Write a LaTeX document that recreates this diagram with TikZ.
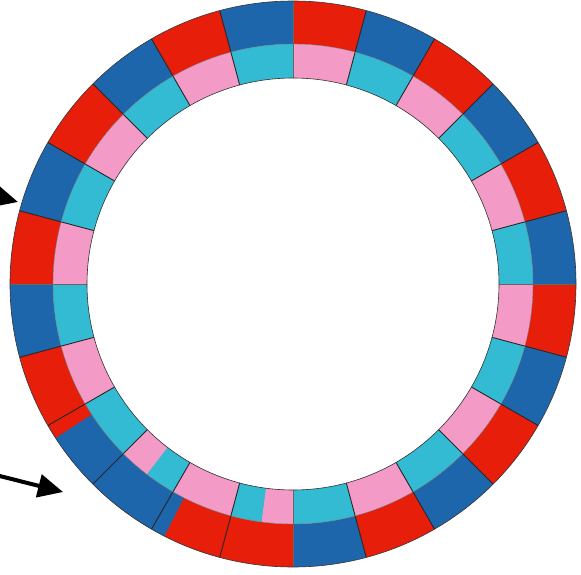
\documentclass[tikz,border=0pt]{standalone}
\usetikzlibrary{arrows.meta}
\definecolor{rred}{HTML}{E61E0A}
\definecolor{rblue}{HTML}{1D66AC}
\definecolor{rcyan}{HTML}{33BBD3}
\definecolor{rpink}{HTML}{F49AC6}
\newcommand{\ringsector}[5]{%
  \fill[#1] (#2:#4pt) arc[start angle=#2, end angle=#3, radius=#4pt]
    -- (#3:#5pt) arc[start angle=#3, end angle=#2, radius=#5pt] -- cycle;}
\tikzset{
  pointer/.style={line width=4pt, -{Triangle[length=25pt,width=23pt]}},
  spoke/.style={line width=0.9pt, black!85},
  axisspoke/.style={line width=0.5pt, black!60},
  rim/.style={line width=0.6pt, black!80},
  midrim/.style={line width=0.4pt, black!55}
}
\begin{document}
\begin{tikzpicture}[x=1pt,y=1pt]
\useasboundingbox (0,0) rectangle (581,574);
\clip (0,0) rectangle (581,574);
\begin{scope}[shift={(293,290)}]
  % regular pattern
  \foreach \k in {0,...,23}{
    \pgfmathsetmacro\aa{15*\k}
    \pgfmathsetmacro\bb{15*\k+15}
    \ifodd\k\relax \def\oc{rred}\def\ic{rpink}\else \def\oc{rblue}\def\ic{rcyan}\fi
    \ringsector{\oc}{\aa}{\bb}{240}{283}
    \ringsector{\ic}{\aa}{\bb}{206}{240}
  }
  % defects in the lower left
  \ringsector{rred}{210}{213}{240}{283}
  \ringsector{rblue}{213}{243}{240}{283}
  \ringsector{rred}{243}{255}{240}{283}
  \ringsector{rpink}{225}{232.5}{206}{240}
  \ringsector{rcyan}{232.5}{240}{206}{240}
  \ringsector{rpink}{240}{255}{206}{240}
  \ringsector{rcyan}{255}{262.5}{206}{240}
  \ringsector{rpink}{262.5}{270}{206}{240}
  % boundaries
  \foreach \a in {15,30,45,60,75,105,120,135,150,165,195,210,225,240,255,285,300,315,330,345}{
    \draw[spoke] (\a:206pt) -- (\a:283pt);
  }
  \foreach \a in {0,90,180,270}{
    \draw[axisspoke] (\a:206pt) -- (\a:283pt);
  }
  \draw[rim] (0,0) circle[radius=283pt];
  \draw[midrim] (0,0) circle[radius=240pt];
  \draw[rim] (0,0) circle[radius=206pt];
\end{scope}
% arrows
\coordinate (s1) at (-40,387.5);
\coordinate (t1) at (18,372);
\coordinate (s2) at (-20,103);
\coordinate (t2) at (63,82);
\draw[pointer] (s1) -- (t1);
\draw[pointer] (s2) -- (t2);
\end{tikzpicture}
\end{document}
